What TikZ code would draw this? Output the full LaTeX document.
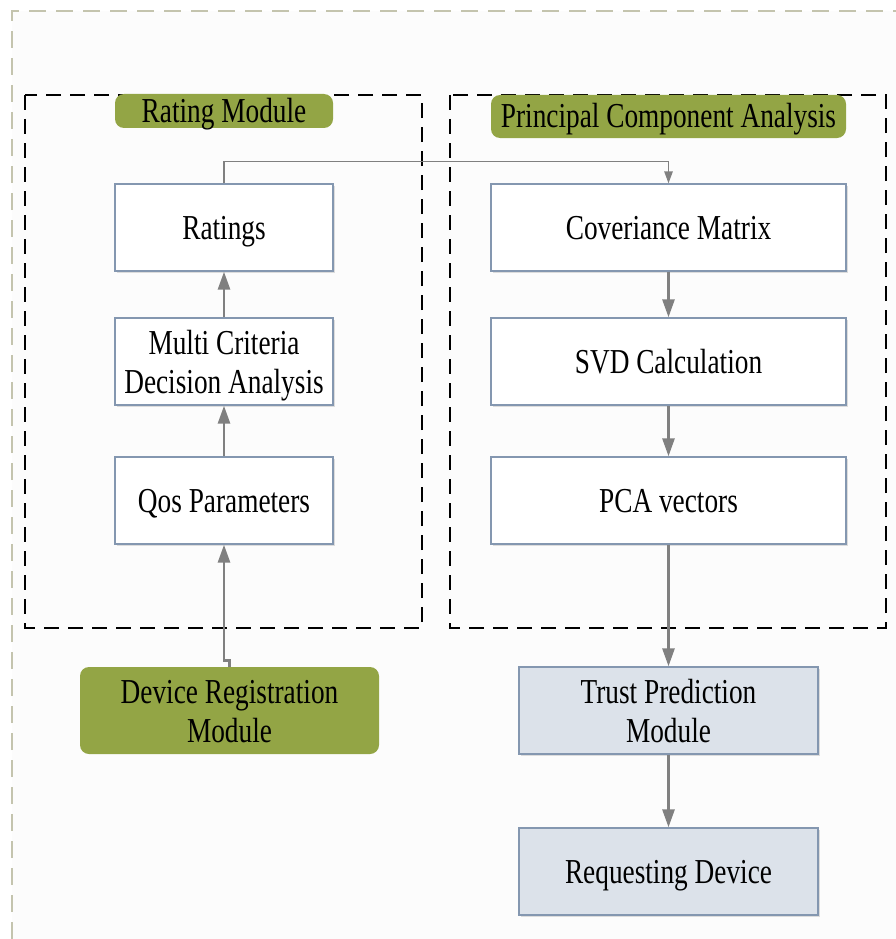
\documentclass[tikz,border=0pt]{standalone}
\usepackage{fontspec}
\setmainfont[FakeStretch=0.78]{Liberation Serif}
\usetikzlibrary{arrows.meta,shadows}
\definecolor{framegray}{HTML}{C4C4AE}
\definecolor{boxedge}{HTML}{8497B0}
\definecolor{modgreen}{HTML}{93A545}
\definecolor{boxfill}{HTML}{DCE2EA}
\definecolor{arrowgray}{HTML}{808080}
% strut that fixes the first line's height inside a multi-line caption
\newcommand{\firstlinestrut}{\rule{0pt}{33pt}}
\tikzset{
  txt/.style={font=\fontsize{35}{39}\selectfont},
  % struts keep every caption's baseline at the same spot inside its box
  boxtext/.style={align=center, inner sep=2pt,
    execute at begin node={\rule[-9pt]{0pt}{41pt}},
    execute at end node={\rule[-9pt]{0pt}{0pt}}},
  stepbox/.style={boxtext, draw=boxedge, line width=1.4pt, fill=white, minimum height=87pt,
    drop shadow={shadow xshift=1.5pt, shadow yshift=-1.8pt, opacity=0.25}},
  lowbox/.style={stepbox, fill=boxfill, minimum width=299pt},
  greenbox/.style={fill=modgreen, rounded corners=9pt},
  titlebox/.style={greenbox, inner xsep=2pt, inner ysep=2pt},
  groupbox/.style={draw=black, line width=1.3pt, dash pattern=on 15pt off 9pt},
  flow/.style={draw=arrowgray, line width=2.8pt, -{Triangle[length=18pt,width=12pt]}},
  thinflow/.style={draw=arrowgray, line width=1.4pt, -{Triangle[length=12pt,width=8.5pt]}}
}
\begin{document}
\begin{tikzpicture}[x=1pt, y=-1pt, every node/.style={txt}]
\useasboundingbox (0,0) rectangle (896,939);
% page background and outer dashed frame
\fill[white] (0,0) rectangle (896,939);
\fill[black!1] (12,11) rectangle (896,939);
\draw[framegray, line width=1.4pt, dash pattern=on 17pt off 10pt] (12,939) -- (12,11) -- (896,11);

% group frames
\draw[groupbox] (25,95) rectangle (422,628);
\draw[groupbox] (450,95) rectangle (886,628);

% group titles
\node[titlebox, minimum width=218pt, minimum height=34pt, text height=27pt, text depth=3pt]
  (ratlbl) at (224,111) {Rating Module};
\node[titlebox, minimum width=355pt, minimum height=43pt, text height=28pt, text depth=6pt]
  (pcalbl) at (668.5,116.5) {Principal Component Analysis};

% rating module steps
\node[stepbox, minimum width=218pt] (ratings) at (224,227.5) {Ratings};
\node[stepbox, minimum width=218pt] (mcda) at (224,361.5) {\firstlinestrut Multi Criteria\\Decision Analysis};
\node[stepbox, minimum width=218pt] (qos) at (224,500.5) {Qos Parameters};

% PCA steps
\node[stepbox, minimum width=355pt] (cov) at (668.5,227.5) {Coveriance Matrix};
\node[stepbox, minimum width=355pt] (svd) at (668.5,361.5) {SVD Calculation};
\node[stepbox, minimum width=355pt] (pcav) at (668.5,500.5) {PCA vectors};

% lower modules
\node[greenbox, boxtext, minimum width=299pt, minimum height=87pt] (devreg) at (229.5,710.5) {\firstlinestrut Device Registration\\Module};
\node[lowbox] (trust) at (668.5,710.5) {\firstlinestrut Trust Prediction\\Module};
\node[lowbox] (req) at (668.5,871.5) {Requesting Device};

% connectors
\draw[thinflow] (ratings.north) -- ++(0,-22) -| (cov.north);
\draw[flow] (qos) -- (mcda);
\draw[flow] (mcda) -- (ratings);
\draw[flow] (cov) -- (svd);
\draw[flow] (svd) -- (pcav);
\draw[flow] (pcav) -- (trust);
\draw[flow] (trust) -- (req);
\draw[flow] (devreg.north) -- ++(0,-6) -| (qos.south);
\end{tikzpicture}
\end{document}
